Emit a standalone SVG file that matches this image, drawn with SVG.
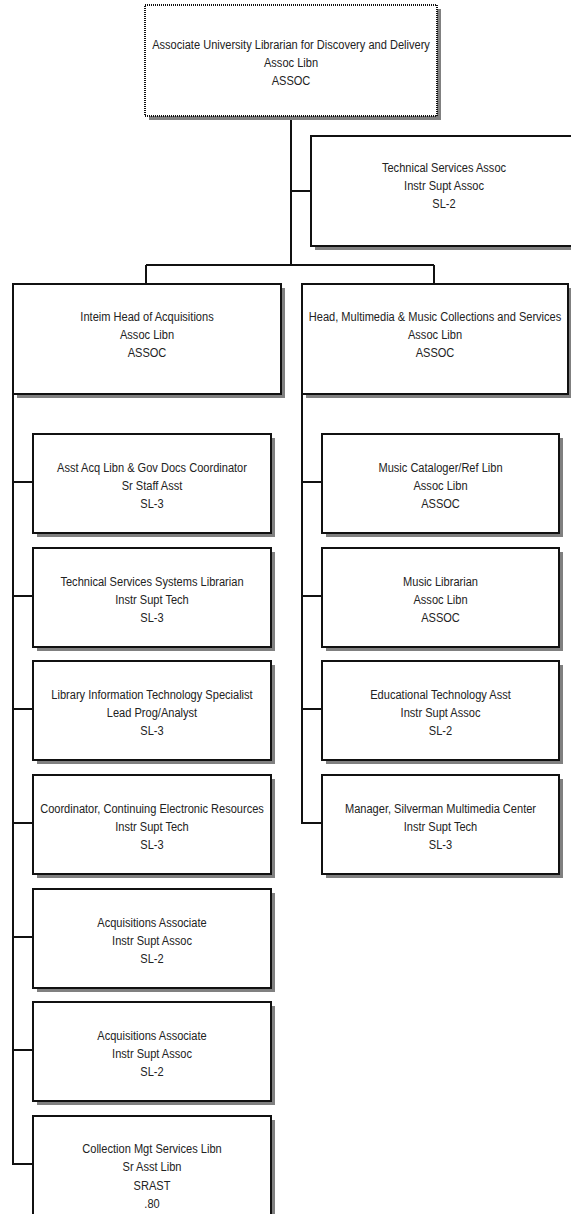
<svg xmlns="http://www.w3.org/2000/svg" width="571" height="1214" viewBox="0 0 571 1214">
<defs>
<style>
.bg{fill:#ffffff}
.sh{fill:#808080}
.box{fill:#ffffff;stroke:#111;stroke-width:2}
.dot{fill:#ffffff;stroke:#111;stroke-width:2;stroke-dasharray:1 1}
.ln{fill:none;stroke:#111;stroke-width:2}
text{font-family:"Liberation Sans",Arial,sans-serif;font-size:13.5px;fill:#222;text-anchor:middle}
</style>
</defs>
<rect class="bg" x="0" y="0" width="571" height="1214"/>
<g id="connectors">
<path class="ln" d="M291 116V265M291 191H311M146 265H434M146 265V284M434 265V284"/>
<path class="ln" d="M13 394V1164H33M13 482H33M13 596H33M13 709H33M13 823H33M13 937H33M13 1050H33"/>
<path class="ln" d="M302 394V823H322M302 482H322M302 596H322M302 709H322"/>
</g>
<g id="n-aul">
<rect class="sh" x="149" y="9" width="292" height="111"/>
<rect class="dot" x="145" y="5" width="292" height="111"/>
<g transform="translate(291,0) scale(0.82,1)"><text x="0" y="49.5">Associate University Librarian for Discovery and Delivery</text><text x="0" y="67.5">Assoc Libn</text><text x="0" y="85.5">ASSOC</text></g>
</g>
<g id="n-tsa">
<rect class="sh" x="315" y="140" width="266" height="110"/>
<rect class="box" x="311" y="136" width="266" height="110"/>
<g transform="translate(444,0) scale(0.82,1)"><text x="0" y="172">Technical Services Assoc</text><text x="0" y="190">Instr Supt Assoc</text><text x="0" y="208">SL-2</text></g>
</g>
<g id="n-acq">
<rect class="sh" x="17" y="288" width="268" height="110"/>
<rect class="box" x="13" y="284" width="268" height="110"/>
<g transform="translate(147,0) scale(0.82,1)"><text x="0" y="321">Inteim Head of Acquisitions</text><text x="0" y="339">Assoc Libn</text><text x="0" y="357">ASSOC</text></g>
</g>
<g id="n-mm">
<rect class="sh" x="306" y="288" width="266" height="110"/>
<rect class="box" x="302" y="284" width="266" height="110"/>
<g transform="translate(435,0) scale(0.82,1)"><text x="0" y="321">Head, Multimedia &amp; Music Collections and Services</text><text x="0" y="339">Assoc Libn</text><text x="0" y="357">ASSOC</text></g>
</g>
<g id="n-l1">
<rect class="sh" x="37" y="438" width="238" height="99"/>
<rect class="box" x="33" y="434" width="238" height="99"/>
<g transform="translate(152,0) scale(0.82,1)"><text x="0" y="472">Asst Acq Libn &amp; Gov Docs Coordinator</text><text x="0" y="490">Sr Staff Asst</text><text x="0" y="508">SL-3</text></g>
</g>
<g id="n-l2">
<rect class="sh" x="37" y="552" width="238" height="99"/>
<rect class="box" x="33" y="548" width="238" height="99"/>
<g transform="translate(152,0) scale(0.82,1)"><text x="0" y="586">Technical Services Systems Librarian</text><text x="0" y="604">Instr Supt Tech</text><text x="0" y="622">SL-3</text></g>
</g>
<g id="n-l3">
<rect class="sh" x="37" y="665" width="238" height="99"/>
<rect class="box" x="33" y="661" width="238" height="99"/>
<g transform="translate(152,0) scale(0.82,1)"><text x="0" y="699">Library Information Technology Specialist</text><text x="0" y="717">Lead Prog/Analyst</text><text x="0" y="735">SL-3</text></g>
</g>
<g id="n-l4">
<rect class="sh" x="37" y="779" width="238" height="99"/>
<rect class="box" x="33" y="775" width="238" height="99"/>
<g transform="translate(152,0) scale(0.82,1)"><text x="0" y="813">Coordinator, Continuing Electronic Resources</text><text x="0" y="831">Instr Supt Tech</text><text x="0" y="849">SL-3</text></g>
</g>
<g id="n-l5">
<rect class="sh" x="37" y="893" width="238" height="99"/>
<rect class="box" x="33" y="889" width="238" height="99"/>
<g transform="translate(152,0) scale(0.82,1)"><text x="0" y="927">Acquisitions Associate</text><text x="0" y="945">Instr Supt Assoc</text><text x="0" y="963">SL-2</text></g>
</g>
<g id="n-l6">
<rect class="sh" x="37" y="1006" width="238" height="99"/>
<rect class="box" x="33" y="1002" width="238" height="99"/>
<g transform="translate(152,0) scale(0.82,1)"><text x="0" y="1040">Acquisitions Associate</text><text x="0" y="1058">Instr Supt Assoc</text><text x="0" y="1076">SL-2</text></g>
</g>
<g id="n-l7">
<rect class="sh" x="37" y="1120" width="238" height="99"/>
<rect class="box" x="33" y="1116" width="238" height="99"/>
<g transform="translate(152,0) scale(0.82,1)"><text x="0" y="1153">Collection Mgt Services Libn</text><text x="0" y="1171">Sr Asst Libn</text><text x="0" y="1190">SRAST</text><text x="0" y="1208">.80</text></g>
</g>
<g id="n-r1">
<rect class="sh" x="326" y="438" width="237" height="99"/>
<rect class="box" x="322" y="434" width="237" height="99"/>
<g transform="translate(440.5,0) scale(0.82,1)"><text x="0" y="472">Music Cataloger/Ref Libn</text><text x="0" y="490">Assoc Libn</text><text x="0" y="508">ASSOC</text></g>
</g>
<g id="n-r2">
<rect class="sh" x="326" y="552" width="237" height="99"/>
<rect class="box" x="322" y="548" width="237" height="99"/>
<g transform="translate(440.5,0) scale(0.82,1)"><text x="0" y="586">Music Librarian</text><text x="0" y="604">Assoc Libn</text><text x="0" y="622">ASSOC</text></g>
</g>
<g id="n-r3">
<rect class="sh" x="326" y="665" width="237" height="99"/>
<rect class="box" x="322" y="661" width="237" height="99"/>
<g transform="translate(440.5,0) scale(0.82,1)"><text x="0" y="699">Educational Technology Asst</text><text x="0" y="717">Instr Supt Assoc</text><text x="0" y="735">SL-2</text></g>
</g>
<g id="n-r4">
<rect class="sh" x="326" y="779" width="237" height="99"/>
<rect class="box" x="322" y="775" width="237" height="99"/>
<g transform="translate(440.5,0) scale(0.82,1)"><text x="0" y="813">Manager, Silverman Multimedia Center</text><text x="0" y="831">Instr Supt Tech</text><text x="0" y="849">SL-3</text></g>
</g>
</svg>
